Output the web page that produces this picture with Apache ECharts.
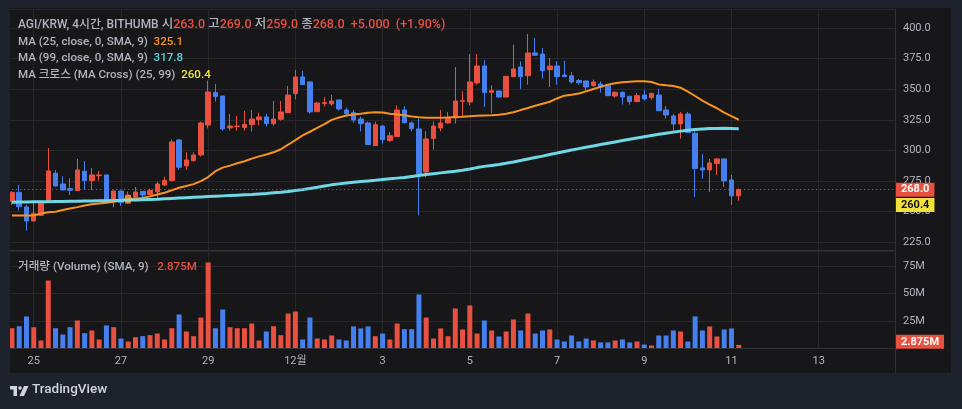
<!DOCTYPE html>
<html><head><meta charset="utf-8">
<script src="https://cdn.jsdelivr.net/npm/echarts@6/dist/echarts.min.js"></script>
<style>html,body{margin:0;padding:0;background:#1e222d;}#c{width:962px;height:409px;}</style>
</head><body><div id="c"></div>
<script>
// ---- data ----
const startTime = '2024-11-24T12:00:00';
const slotCount = 122;           // candles + empty future slots
const tickLabels = ['25','27','29','12월','3','5','7','9','11','13'];
const firstTickIndex = 3, tickStep = 12;

const opens = [258.5,265.8,253.9,242.4,247.0,258.2,281.4,272.6,268.8,267.2,
283.0,275.4,279.4,280.0,258.8,266.9,256.9,261.8,266.6,263.9,
266.1,271.8,275.4,308.6,287.4,291.7,296.3,320.8,347.3,344.5,
318.4,319.5,318.7,321.1,325.2,327.4,321.9,325.5,330.9,346.4,
360.1,356.0,331.7,338.3,338.0,341.3,333.1,330.9,325.7,322.5,
304.0,320.0,308.1,311.3,333.1,322.5,317.6,282.4,309.7,318.4,
322.5,326.6,340.2,339.6,355.2,369.0,347.5,348.6,343.7,360.3,
368.2,361.1,379.7,378.8,366.0,369.0,361.7,361.0,357.1,356.8,
353.0,354.3,353.0,344.5,347.5,344.3,339.9,345.3,343.2,345.3,
333.1,328.2,321.7,329.8,314.0,285.7,284.1,289.3,293.1,275.9,
263.0];
const closes = [265.8,254.1,242.4,248.7,257.9,283.3,271.0,267.7,267.5,284.1,
275.4,280.0,280.0,258.8,266.9,257.4,263.6,266.1,263.6,267.2,
272.6,275.6,307.0,286.3,292.2,296.3,322.5,347.8,344.0,317.6,
320.0,320.0,321.4,325.7,327.4,321.9,325.7,331.5,345.3,360.1,
353.8,331.5,338.8,339.1,340.4,333.9,330.1,324.9,321.9,304.8,
321.0,308.9,312.0,333.1,322.7,317.8,280.8,309.4,320.0,322.5,
327.1,340.4,340.7,356.0,369.0,347.3,348.9,343.7,360.6,366.6,
360.3,379.7,377.8,365.2,369.0,360.3,360.3,356.0,355.4,351.9,
356.0,351.6,344.8,347.5,343.7,339.9,344.8,342.1,346.7,332.5,
329.0,321.7,329.8,314.6,285.2,284.1,289.8,293.1,275.1,263.0,
268.0];
const lows = [255.5,251.0,234.5,241.9,246.5,257.5,270.5,267.5,263.6,267.0,
267.7,267.7,275.4,258.5,253.6,254.7,256.3,261.2,261.2,263.4,
260.1,271.0,274.5,284.1,284.1,290.9,295.0,318.1,339.9,316.2,
316.2,316.2,316.2,315.4,320.6,319.5,320.3,324.4,330.7,341.8,
353.6,330.1,331.5,335.8,336.4,332.6,327.6,322.7,315.4,304.6,
303.8,305.6,307.0,311.0,322.5,315.7,247.0,278.1,300.7,315.7,
321.9,321.9,327.9,336.9,353.8,335.5,330.7,342.9,343.5,360.0,
350.3,353.8,377.6,358.7,351.9,353.8,360.1,354.6,353.8,348.3,
351.9,347.3,344.6,343.2,337.5,337.5,339.7,340.7,341.6,332.3,
326.0,315.7,309.7,314.4,262.0,277.0,266.1,280.0,270.2,255.5,
259.0];
const highs = [266.5,271.8,255.5,257.7,259.0,302.0,284.1,278.9,277.3,293.1,
291.4,285.7,283.3,280.3,267.2,267.2,266.4,270.2,266.9,268.8,
274.5,278.6,309.1,309.4,298.5,298.5,323.6,357.1,354.3,344.8,
329.8,328.2,332.3,333.1,330.9,329.8,340.4,340.4,352.7,365.8,
365.0,356.3,339.6,343.7,345.3,341.5,335.0,333.1,327.6,323.6,
323.5,320.3,315.0,336.9,336.1,323.8,326.0,315.7,323.8,333.1,
331.5,368.2,348.3,378.8,378.8,373.7,353.3,348.9,360.8,386.5,
372.8,395.2,391.9,383.7,375.6,372.9,373.4,364.2,358.4,357.0,
357.9,356.5,353.2,348.3,348.3,344.5,346.7,349.4,346.9,350.3,
336.1,329.8,331.5,331.5,315.7,297.2,293.1,293.9,293.3,280.0,
269.0];
const volumesM = [18.2,20.0,29.0,19.1,6.9,62.0,18.2,12.4,19.1,25.3,
13.6,16.1,7.8,20.7,19.1,8.7,6.0,9.9,10.9,11.8,
13.3,7.8,18.2,30.8,15.2,10.9,28.0,78.6,18.2,35.4,
19.1,18.2,18.2,22.5,6.9,15.2,20.0,11.8,31.7,33.5,
7.8,28.0,8.7,7.8,11.5,7.8,6.9,19.8,18.0,19.8,
10.9,13.3,7.8,22.5,17.3,17.3,49.2,28.0,8.7,18.0,
10.9,36.3,17.0,39.1,13.3,25.3,16.1,10.6,15.2,26.2,
16.1,31.7,13.3,16.1,17.0,7.8,6.0,11.5,6.0,8.7,
6.9,5.1,5.1,6.9,7.8,5.1,6.0,3.2,2.3,11.5,
11.5,16.1,15.2,6.0,29.0,16.1,19.8,10.6,17.0,18.0,
2.875];
const ma25 = [246.8,246.8,246.8,246.9,248.5,249.5,250.0,251.3,252.5,253.7,
255.0,256.0,256.6,257.2,258.0,259.0,259.8,260.5,261.2,262.5,
264.0,265.5,267.5,269.5,271.0,272.5,275.0,278.3,283.1,286.0,
287.6,289.5,291.2,293.3,295.2,296.7,298.5,301.0,304.7,308.5,
312.3,315.3,318.5,321.5,325.0,327.0,328.5,329.4,330.0,330.8,
331.3,331.0,330.0,329.3,328.7,327.8,327.2,326.8,326.7,326.8,
327.0,327.3,327.6,328.0,328.4,328.6,328.7,329.2,330.0,331.2,
333.0,334.7,336.5,338.2,339.8,342.5,344.8,345.6,346.6,348.3,
350.2,352.0,353.8,355.0,355.8,356.2,356.5,356.5,356.0,354.0,
353.3,352.7,351.3,348.0,344.5,340.8,337.5,334.5,331.0,328.0,
325.1];
const ma99 = [257.7,257.8,257.9,258.0,258.1,258.2,258.3,258.4,258.5,258.6,
258.7,258.8,258.9,259.0,259.2,259.3,259.5,259.6,259.8,260.0,
260.2,260.5,260.8,261.1,261.4,261.7,262.0,262.3,262.6,262.9,
263.2,263.5,263.8,264.1,264.5,264.9,265.4,265.9,266.5,267.2,
268.0,268.9,269.9,271.0,271.9,272.7,273.4,274.0,274.6,275.1,
275.6,276.2,276.8,277.4,278.0,278.8,279.6,280.3,281.0,281.7,
282.4,283.1,283.9,284.9,286.0,287.0,287.8,288.6,289.5,290.6,
291.8,293.0,294.2,295.4,296.7,297.9,299.2,300.4,301.5,302.6,
303.7,304.8,305.9,307.0,308.1,309.2,310.2,311.2,312.2,313.2,
314.1,315.0,315.8,316.5,317.1,317.6,317.9,318.0,318.1,318.0,
317.8];
const maCrossIndex = 16, maCrossValue = 260.4;
const lastPrice = 268.0, lastVolumeM = 2.875;

// ---- build ----
const UP = '#e8503f', DOWN = '#4680ef';
const GRID = '#26262b', AXIS = '#2f2f35', TXT = '#b2b5be';
const FONT = 'Roboto, "Noto Sans CJK KR", sans-serif';
const LFS = 11.6, BFS = 12.5;
const t0 = new Date(startTime).getTime();
const categories = Array.from({length: slotCount}, (_, i) => {
  const d = new Date(t0 + i * 4 * 3600 * 1000);
  return (d.getMonth()+1) + '-' + d.getDate() + ' ' + d.getHours() + ':00';
});
const isTick = i => i >= firstTickIndex && (i - firstTickIndex) % tickStep === 0;
const candleData = opens.map((o, i) => [o, closes[i], lows[i], highs[i]]);
const volData = volumesM.map((v, i) => ({value: v, itemStyle: {color: closes[i] >= opens[i] ? UP : DOWN}}));

const chart = echarts.init(document.getElementById('c'), null, {renderer: 'canvas'});
const L = 8.3, R = 67;
const xBase = (gi, showLabel) => ({
  type: 'category', gridIndex: gi, data: categories, boundaryGap: true,
  axisLine: {show: true, lineStyle: {color: AXIS}},
  axisTick: {show: false},
  axisLabel: {show: showLabel, interval: (i) => isTick(i), color: TXT, fontSize: 11, fontFamily: FONT, margin: 8,
    formatter: (v, i) => isTick(i) ? (tickLabels[(i - firstTickIndex) / tickStep] || '') : ''},
  splitLine: {show: true, interval: (i) => isTick(i), alignWithLabel: true, lineStyle: {color: GRID}}
});
const rs = (c, fs) => ({color: c, fontSize: fs || LFS, fontFamily: FONT, fontWeight: 500});
const legendRich = {g: rs(TXT), h: rs(TXT, 11.9), k: rs(TXT, BFS), r: rs(UP), R: rs(UP, BFS),
  o: rs('#f7931e'), c: rs('#5fd0de'), y: rs('#f2e33c')};
const fmt = v => v.toFixed(1);
const title = (text, top) => ({text, left: 18, top, padding: 0, textStyle: {rich: legendRich, fontSize: LFS, fontFamily: FONT}});
const noLine = {width: 0, color: 'rgba(0,0,0,0)'};
const tag = (text, bg, fg, offset) => ({show: true, position: 'end', distance: 1, offset, formatter: text, backgroundColor: bg, color: fg,
  fontSize: 11, fontWeight: 'bold', fontFamily: FONT, padding: [2, 5, 1, 5]});

chart.setOption({
  backgroundColor: '#17171a',
  animation: false,
  title: [
    title('{h|AGI/KRW, 4시간, BITHUMB}{k| 시}{R|' + fmt(opens[100]) + '}{k| 고}{R|' + fmt(highs[100]) + '}{k| 저}{R|' + fmt(lows[100]) + '}{k| 종}{R|' + fmt(closes[100]) + '  +5.000  (+1.90%)}', 19),
    title('{g|MA (25, close, 0, SMA, 9)  }{o|' + fmt(ma25[100]) + '}', 36),
    title('{g|MA (99, close, 0, SMA, 9)  }{c|' + fmt(ma99[100]) + '}', 52.7),
    title('{g|MA 크로스 (MA Cross) (25, 99)  }{y|' + fmt(maCrossValue) + '}', 69.4),
    title('{g|거래량 (Volume) (SMA, 9)   }{r|' + lastVolumeM.toFixed(3) + 'M}', 261.5)
  ],
  grid: [
    {left: L, right: R, top: 9, height: 241.7, containLabel: false},
    {left: L, right: R, top: 251, bottom: 61, containLabel: false}
  ],
  xAxis: [xBase(0, false), xBase(1, true)],
  yAxis: [
    {type: 'value', gridIndex: 0, position: 'right', min: 218.1, max: 415.6, minInterval: 25, maxInterval: 25, splitNumber: 8,
      axisLine: {show: true, lineStyle: {color: AXIS}}, axisTick: {show: false},
      axisLabel: {color: TXT, fontSize: 11, fontFamily: FONT, margin: 8, showMinLabel: false, showMaxLabel: false, formatter: v => v.toFixed(1)},
      splitLine: {show: true, lineStyle: {color: GRID}}},
    {type: 'value', gridIndex: 1, position: 'right', min: 0, max: 89.15, minInterval: 25, maxInterval: 25, splitNumber: 3,
      axisLine: {show: true, lineStyle: {color: AXIS}}, axisTick: {show: false},
      axisLabel: {color: TXT, fontSize: 11, fontFamily: FONT, margin: 8, showMinLabel: false, showMaxLabel: false, formatter: v => v + 'M'},
      splitLine: {show: true, lineStyle: {color: GRID}}}
  ],
  series: [
    {type: 'candlestick', xAxisIndex: 0, yAxisIndex: 0, data: candleData, barWidth: 5,
      itemStyle: {color: UP, color0: DOWN, borderColor: UP, borderColor0: DOWN, borderWidth: 1},
      markLine: {symbol: 'none', silent: true, animation: false,
        data: [{yAxis: lastPrice}],
        lineStyle: {color: UP, type: [1, 3], width: 1},
        label: tag(fmt(lastPrice), UP, '#fff', [0, 0])}},
    {type: 'line', xAxisIndex: 0, yAxisIndex: 0, data: ma25, showSymbol: false, lineStyle: {color: '#f7931e', width: 2}, z: 3},
    {type: 'line', xAxisIndex: 0, yAxisIndex: 0, data: ma99, showSymbol: false, lineStyle: {color: '#6fd8e4', width: 3}, z: 3},
    {type: 'scatter', xAxisIndex: 0, yAxisIndex: 0, data: [[maCrossIndex, maCrossValue]], symbolSize: 7, z: 4,
      itemStyle: {color: 'rgba(242,227,60,0.35)', borderColor: '#f2e33c', borderWidth: 1, borderType: 'dotted'},
      markLine: {symbol: 'none', silent: true, animation: false, data: [{yAxis: maCrossValue}],
        lineStyle: noLine, label: tag(fmt(maCrossValue), '#f2e33c', '#111', [0, 6])}},
    {type: 'bar', xAxisIndex: 1, yAxisIndex: 1, data: volData, barWidth: 5,
      markLine: {symbol: 'none', silent: true, animation: false, data: [{yAxis: lastVolumeM}],
        lineStyle: noLine, label: tag(lastVolumeM.toFixed(3) + 'M', UP, '#fff', [0, -3])}}
  ],
  graphic: [
    {type: 'rect', z: 100, shape: {x: 0, y: 0, width: 10, height: 409}, style: {fill: '#1e222d'}},
    {type: 'rect', z: 100, shape: {x: 0, y: 0, width: 962, height: 8}, style: {fill: '#1e222d'}},
    {type: 'rect', z: 100, shape: {x: 951, y: 0, width: 11, height: 409}, style: {fill: '#1e222d'}},
    {type: 'rect', z: 100, shape: {x: 0, y: 373, width: 962, height: 36}, style: {fill: '#1e222d'}},
    {type: 'line', z: 50, shape: {x1: 895.5, y1: 348, x2: 895.5, y2: 373}, style: {stroke: AXIS, lineWidth: 1}},
    {type: 'polygon', z: 101, shape: {points: [[10,386],[17,386],[17,396],[13.5,396],[13.5,389.5],[10,389.5]]}, style: {fill: '#d1d4dc'}},
    {type: 'circle', z: 101, shape: {cx: 20, cy: 388, r: 1.8}, style: {fill: '#d1d4dc'}},
    {type: 'polygon', z: 101, shape: {points: [[24,386],[28.5,386],[24,396],[19.5,396]]}, style: {fill: '#d1d4dc'}},
    {type: 'text', z: 101, left: 32, top: 383, style: {text: 'TradingView', fill: '#d1d4dc', font: '500 13.5px Roboto, sans-serif'}}
  ]
});
</script></body></html>
